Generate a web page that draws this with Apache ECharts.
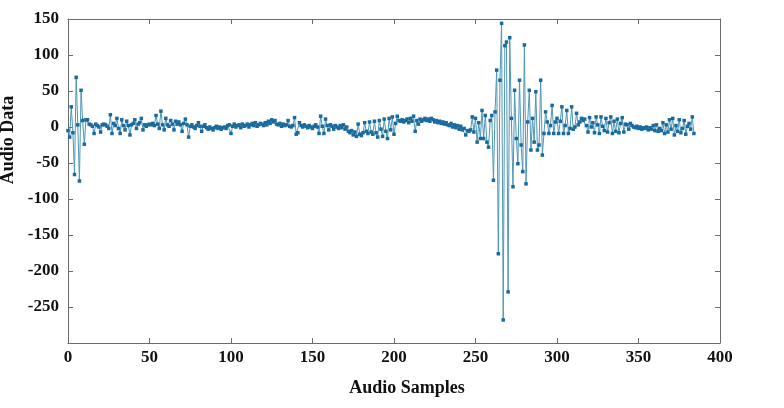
<!DOCTYPE html>
<html>
<head>
<meta charset="utf-8">
<script src="https://cdn.jsdelivr.net/npm/echarts@6/dist/echarts.min.js"></script>
<style>
  html, body {margin: 0; padding: 0; background: #fff;}
  #chart {width: 784px; height: 408px;}
</style>
</head>
<body>
<div id="chart"></div>
<script>
// Audio samples, one value per sample index (0..384).
const onset = [-5, -14, 28, -8, -66, 69, 3, -75, 51, 9, -24, 10, 10]

const quietEarly = [
  4, 3, 1, -9, 4, 2, 0, -7, 3, 4, 3, 1, -2,
  17, -9, 5, 2, 12, -2, -9, 10, 2, -4, 8, 2, -11, 3, 5, 10, -2, 4, 6, 12, -4, 3,
  1, 3, 4, 3, 5, 2, 16, 4, -2, 22, 3, -4, 12, 3, 1, 9, 4, -4, 8, 4, 7, 3, -6, 5, 11, 3, -14, 1,
]

const quietMid = [
  3, 0, -2, 2, 6, 1, -6, 1, 3, -1, -3, 0, -2, -4, -1, 1, -2, 0, -3, -1, 0, -2, 2, 3, -9,
  1, 4, 0, 2, 3, -1, 4, 1, 2, 4, 0, 3, 5, 2, 6, 1, 3, 5,
  4, 2, 6, 3, 8, 5, 10, 7, 9, 4, 3, 5, 1, 4, 2, 3, 9, 1, 0, 2, 13, -10, -8, 6, 2, 0,
  3, 1, -1, 2, 0, -2, 1, 3, 0, -9, 15, 1, -9, 11, 2, -4, 3, 1, -3, 2, 0, -2, 2, -1, 3, -3, 0,
  -6, -8, -5, -11, -7, -13, 4, -10, -12, -8, 6, -6, -9, 7, -7, -10, 8, -8, -14, 9, -3, -13, 11,
  -6, -16, 12, -4, 14, -10, 5, 15, 9, 8, 10, 7, 9, 11, 6, 12, 8, 15, -6, 9, 4, 11, 8, 10, 12,
  9, 11, 8, 12, 10, 7, 9, 6, 8, 5, 7, 4, 6, 3, 2, 5, 0, 3, -1, 2, -3, 1, -4, -2, -11, -5, -6,
  -4, 14, -7, 12,
]

const burst = [
  -21, 6, -16, 23, -16, 16, -21, -28, 9, 16, -74, 21, 79, -176, 65, 144, -268, 113, 118, -229,
  124, 12, -83, 51, -16, -51, 65, -25, -62, 114, -79, 7, 51, -32, 12, -21, 49, -32, -25, 65,
  -39, -9, 21, 7, -9, 2, 30, -9, 7,
]

const tail = [
  12, -9, 8, 28, -9, 2, 23, -9, -2, 28, -3, 0, 19, 3, 7, 12, 9, 11, 2, -7,
  13, 0, 6, -8, 14, 3, -9, 14, 1, -5, 12, -7, 6, 14, -9, 8, -6, 11, -8, 5,
  13, -7, 4, 3, -3, 5, 2, 0, -1, 1, -2, 0, -3, -1, -2, 0, -4, -1, -3, 2,
  -5, 3, -6, -2, -5, 6, -9, 3, -7, 10, -3, 12, -11, 2, -6, 10, -8, -2, 9, -10,
  1, 5, -3, 14, -9,
]

const audio = [...onset, ...quietEarly, ...quietMid, ...burst, ...tail]

const X_TICKS = {min: 0, max: 400, interval: 50}
const Y_TICKS = {min: -300, max: 150, interval: 50}

const FONT = "'Liberation Serif', 'Times New Roman', serif"
const AXIS_GREY = "#6b6b6b"

const chart = echarts.init(document.getElementById("chart"), null, {renderer: "canvas"})

const frameAxis = {
  axisLine: {show: true, onZero: false, lineStyle: {color: AXIS_GREY, width: 1}},
  axisTick: {show: true, inside: true, length: 5, lineStyle: {color: AXIS_GREY}},
  splitLine: {show: false},
}

chart.setOption({
  animation: false,
  backgroundColor: "#ffffff",
  grid: {left: 68, right: 64, top: 19, bottom: 65, outerBoundsMode: "none"},
  xAxis: [
    {
      type: "value",
      ...X_TICKS,
      ...frameAxis,
      name: "Audio Samples",
      nameLocation: "middle",
      nameGap: 36,
      nameTextStyle: {fontFamily: FONT, fontWeight: "bold", fontSize: 18, color: "#111", padding: [0, 0, 0, 26]},
      axisLabel: {fontFamily: FONT, fontWeight: "bold", fontSize: 17, color: "#111", margin: 6},
    },
    {
      type: "value",
      position: "top",
      ...X_TICKS,
      ...frameAxis,
      axisLabel: {show: false},
    },
  ],
  yAxis: [
    {
      type: "value",
      ...Y_TICKS,
      ...frameAxis,
      name: "Audio Data",
      nameLocation: "middle",
      nameGap: 47,
      nameTextStyle: {fontFamily: FONT, fontWeight: "bold", fontSize: 18, color: "#111", padding: [0, 0, 0, 82]},
      axisLabel: {fontFamily: FONT, fontWeight: "bold", fontSize: 17, color: "#111", margin: 9, showMinLabel: false},
    },
    {
      type: "value",
      position: "right",
      ...Y_TICKS,
      ...frameAxis,
      axisLabel: {show: false},
    },
  ],
  series: [
    {
      type: "line",
      data: audio.map((v, i) => [i, v]),
      symbol: "rect",
      symbolSize: 3.5,
      showSymbol: true,
      lineStyle: {color: "#4f97b7", width: 1},
      itemStyle: {color: "#1a6a9e"},
    },
  ],
})
</script>
</body>
</html>
